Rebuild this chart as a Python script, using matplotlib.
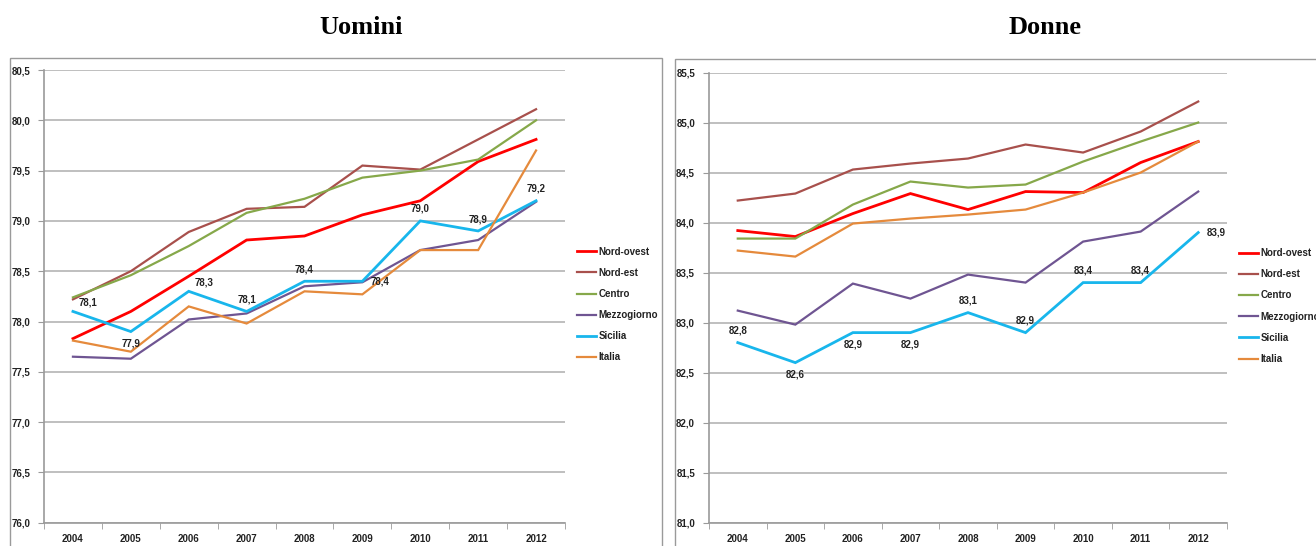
import matplotlib
matplotlib.use('Agg')
import matplotlib.pyplot as plt
from matplotlib.patches import Rectangle
import numpy as np

years = ['2004', '2005', '2006', '2007', '2008', '2009', '2010', '2011', '2012']
regions = ['Nord-ovest', 'Nord-est', 'Centro', 'Mezzogiorno', 'Sicilia', 'Italia']

# speranza di vita - uomini
uomini_nord_ovest = [77.83, 78.10, 78.45, 78.81, 78.85, 79.06, 79.20, 79.59, 79.81]
uomini_nord_est = [78.22, 78.50, 78.89, 79.12, 79.14, 79.55, 79.51, 79.81, 80.11]
uomini_centro = [78.24, 78.46, 78.75, 79.08, 79.22, 79.43, 79.50, 79.61, 80.00]
uomini_mezzogiorno = [77.65, 77.63, 78.02, 78.08, 78.35, 78.39, 78.71, 78.81, 79.19]
uomini_sicilia = [78.1, 77.9, 78.3, 78.1, 78.4, 78.4, 79.0, 78.9, 79.2]
uomini_italia = [77.81, 77.70, 78.15, 77.98, 78.30, 78.27, 78.71, 78.71, 79.70]

# speranza di vita - donne
donne_nord_ovest = [83.92, 83.86, 84.09, 84.29, 84.13, 84.31, 84.30, 84.60, 84.81]
donne_nord_est = [84.22, 84.29, 84.53, 84.59, 84.64, 84.78, 84.70, 84.91, 85.21]
donne_centro = [83.84, 83.84, 84.18, 84.41, 84.35, 84.38, 84.61, 84.81, 85.00]
donne_mezzogiorno = [83.12, 82.98, 83.39, 83.24, 83.48, 83.40, 83.81, 83.91, 84.31]
donne_sicilia = [82.8, 82.6, 82.9, 82.9, 83.1, 82.9, 83.4, 83.4, 83.9]
donne_italia = [83.72, 83.66, 83.99, 84.04, 84.08, 84.13, 84.30, 84.50, 84.81]

# dove stanno le etichette della Sicilia (sopra / sotto / destra)
uomini_label_pos = ['ur', 'below', 'ur', 'above', 'above', 'right', 'above', 'above', 'above']
donne_label_pos = ['above', 'below', 'below', 'below', 'above', 'above', 'above', 'above', 'right']

colors = {'Nord-ovest': '#FF0000', 'Nord-est': '#A8504C', 'Centro': '#86A84A',
          'Mezzogiorno': '#6F5592', 'Sicilia': '#18B6EC', 'Italia': '#E58A3C'}
widths = {'Nord-ovest': 2.0, 'Nord-est': 1.6, 'Centro': 1.6,
          'Mezzogiorno': 1.6, 'Sicilia': 2.0, 'Italia': 1.6}

W, H = 1316, 546
fig = plt.figure(figsize=(W / 100, H / 100), dpi=100)
fnt = 'Liberation Sans'
fs = 7

# cornici dei due riquadri
fig.patches.append(Rectangle((10 / W, -0.1), 652 / W, 1.1 - 58 / H, transform=fig.transFigure,
                             fill=False, edgecolor='#9a9a9a', linewidth=1.0))
fig.patches.append(Rectangle((675 / W, -0.1), 700 / W, 1.1 - 59 / H, transform=fig.transFigure,
                             fill=False, edgecolor='#9a9a9a', linewidth=1.0))

fig.text(361 / W, 1 - 27 / H, 'Uomini', ha='center', va='center', fontsize=19,
         fontweight='bold', family='Liberation Serif')
fig.text(1045 / W, 1 - 27 / H, 'Donne', ha='center', va='center', fontsize=19,
         fontweight='bold', family='Liberation Serif')


def draw_panel(ax, series, ymin, ymax, label_pos, leg_x):
    x = np.arange(len(years))
    for name, vals in zip(regions, series):
        ax.plot(x, vals, color=colors[name], linewidth=widths[name], label=name,
                solid_joinstyle='miter')
    sic = series[4]
    for i, v in enumerate(sic):
        txt = ('%.1f' % v).replace('.', ',')
        p = label_pos[i]
        if p == 'above':
            off, ha, va = (0, 5), 'center', 'bottom'
        elif p == 'below':
            off, ha, va = (0, -5), 'center', 'top'
        elif p == 'ur':
            off, ha, va = (4, 3), 'left', 'bottom'
        else:
            off, ha, va = (6, 0), 'left', 'center'
        ax.annotate(txt, (i, v), xytext=off, textcoords='offset points', ha=ha, va=va,
                    fontsize=fs, fontweight='bold', family=fnt, color='#222222')

    ax.set_xlim(-0.5, len(years) - 0.5)
    ax.set_ylim(ymin, ymax)
    yt = np.arange(ymin, ymax + 0.01, 0.5)
    ax.set_yticks(yt)
    ax.set_yticklabels([('%.1f' % t).replace('.', ',') for t in yt], fontsize=fs,
                       fontweight='bold', family=fnt, color='#222222')
    ax.set_xticks(x)
    ax.set_xticklabels(years, fontsize=fs, fontweight='bold', family=fnt, color='#222222')
    ax.set_xticks(np.arange(-0.5, len(years)), minor=True)
    ax.tick_params(axis='x', which='major', length=0, pad=8)
    ax.tick_params(axis='x', which='minor', length=4, color='#9a9a9a', direction='out')
    ax.tick_params(axis='y', length=4, color='#9a9a9a', pad=6)
    ax.grid(axis='y', color='#b4b4b4', linewidth=1.2)
    ax.set_axisbelow(True)
    for s in ['top', 'right']:
        ax.spines[s].set_visible(False)
    ax.spines['left'].set_color('#9a9a9a')
    ax.spines['bottom'].set_color('#9a9a9a')
    ax.spines['left'].set_linewidth(1.2)
    ax.spines['bottom'].set_linewidth(1.2)
    leg = ax.legend(loc='upper left', bbox_to_anchor=(leg_x, 0.625), frameon=False,
                    handlelength=2.0, handletextpad=0.2, labelspacing=1.15,
                    borderaxespad=0.3, prop={'family': fnt, 'weight': 'bold', 'size': fs})
    for t in leg.get_texts():
        t.set_color('#222222')


ax1 = fig.add_axes([44 / W, (H - 522.7) / H, 521 / W, 452.7 / H])
draw_panel(ax1, [uomini_nord_ovest, uomini_nord_est, uomini_centro, uomini_mezzogiorno,
                 uomini_sicilia, uomini_italia], 76.0, 80.5, uomini_label_pos, 1.01)

ax2 = fig.add_axes([709 / W, (H - 522.7) / H, 518 / W, 450.2 / H])
draw_panel(ax2, [donne_nord_ovest, donne_nord_est, donne_centro, donne_mezzogiorno,
                 donne_sicilia, donne_italia], 81.0, 85.5, donne_label_pos, 1.01)

fig.savefig('out.png', dpi=100)
